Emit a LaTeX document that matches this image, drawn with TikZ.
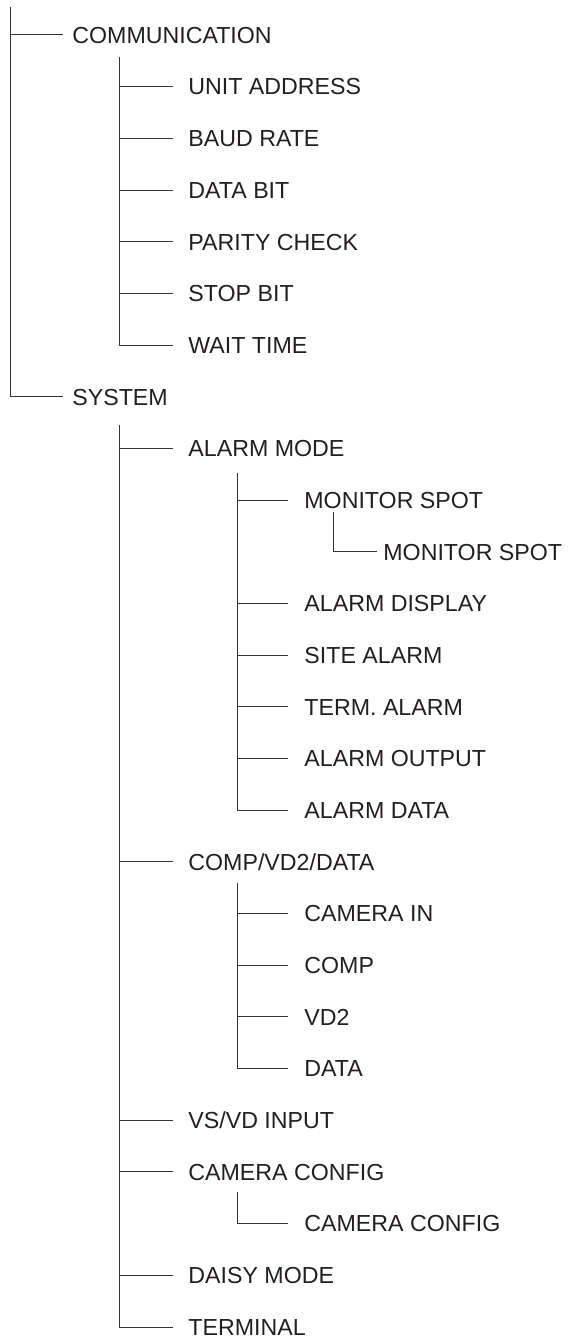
\documentclass[tikz,border=0pt]{standalone}
\usepackage{fontspec}
\setmainfont{Liberation Sans}
\definecolor{txt}{HTML}{231F20}
\definecolor{linec}{HTML}{333333}
\begin{document}
\begin{tikzpicture}[x=0.5pt,y=-0.5pt,
  lbl/.style={anchor=west, inner sep=0pt, text height=8.3pt, text depth=0pt,
    font=\fontsize{11.6}{13}\selectfont, text=txt},
  ln/.style={draw=linec, line width=0.5pt}]
\useasboundingbox (0,0) rectangle (568,1338);
% level 0
\node[lbl] (comm) at (72,{35+51.68*0}) {COMMUNICATION};
\node[lbl] (sys)  at (72,{35+51.68*7}) {SYSTEM};
% communication children
\node[lbl] (ua) at (188,{35+51.68*1}) {UNIT ADDRESS};
\node[lbl] (br) at (188,{35+51.68*2}) {BAUD RATE};
\node[lbl] (db) at (188,{35+51.68*3}) {DATA BIT};
\node[lbl] (pc) at (188,{35+51.68*4}) {PARITY CHECK};
\node[lbl] (sb) at (188,{35+51.68*5}) {STOP BIT};
\node[lbl] (wt) at (188,{35+51.68*6}) {WAIT TIME};
% system children
\node[lbl] (am) at (188,{35+51.68*8}) {ALARM MODE};
\node[lbl] (ms) at (304,{35+51.68*9}) {MONITOR SPOT};
\node[lbl] (ms2) at (383,{35+51.68*10}) {MONITOR SPOT};
\node[lbl] (ad) at (304,{35+51.68*11}) {ALARM DISPLAY};
\node[lbl] (sa) at (304,{35+51.68*12}) {SITE ALARM};
\node[lbl] (ta) at (304,{35+51.68*13}) {TERM. ALARM};
\node[lbl] (ao) at (304,{35+51.68*14}) {ALARM OUTPUT};
\node[lbl] (adt) at (304,{35+51.68*15}) {ALARM DATA};
\node[lbl] (cvd) at (188,{35+51.68*16}) {COMP/VD2/DATA};
\node[lbl] (ci) at (304,{35+51.68*17}) {CAMERA IN};
\node[lbl] (cp) at (304,{35+51.68*18}) {COMP};
\node[lbl] (vd) at (304,{35+51.68*19}) {VD2};
\node[lbl] (dt) at (304,{35+51.68*20}) {DATA};
\node[lbl] (vs) at (188,{35+51.68*21}) {VS/VD INPUT};
\node[lbl] (cc) at (188,{35+51.68*22}) {CAMERA CONFIG};
\node[lbl] (cc2) at (304,{35+51.68*23}) {CAMERA CONFIG};
\node[lbl] (dm) at (188,{35+51.68*24}) {DAISY MODE};
\node[lbl] (tm) at (188,{35+51.68*25}) {TERMINAL};
% vertical tops
\coordinate (t0) at (10,7);
\coordinate (tc) at (119,57);
\coordinate (ts) at (119,425);
\coordinate (ta1) at (237,473);
\coordinate (tms) at (333,512);
\coordinate (tcv) at (237,883);
\coordinate (tcc) at (237,1192);
% level 0
\draw[ln] ([xshift=-4.5pt]comm.west) -- (comm.west -| t0);
\draw[ln] (t0) |- ([xshift=-4.5pt]sys.west);
% communication
\foreach \n in {ua,br,db,pc,sb}{\draw[ln] ([xshift=-7.5pt]\n.west) -- (\n.west -| tc);}
\draw[ln] (tc) |- ([xshift=-7.5pt]wt.west);
% system
\foreach \n in {am,cvd,vs,cc,dm}{\draw[ln] ([xshift=-7.5pt]\n.west) -- (\n.west -| ts);}
\draw[ln] (ts) |- ([xshift=-7.5pt]tm.west);
% alarm mode
\foreach \n in {ms,ad,sa,ta,ao}{\draw[ln] ([xshift=-8pt]\n.west) -- (\n.west -| ta1);}
\draw[ln] (ta1) |- ([xshift=-8pt]adt.west);
\draw[ln] (tms) |- ([xshift=-3pt]ms2.west);
% comp/vd2/data
\foreach \n in {ci,cp,vd}{\draw[ln] ([xshift=-8pt]\n.west) -- (\n.west -| tcv);}
\draw[ln] (tcv) |- ([xshift=-8pt]dt.west);
% camera config
\draw[ln] (tcc) |- ([xshift=-8pt]cc2.west);
\end{tikzpicture}
\end{document}
